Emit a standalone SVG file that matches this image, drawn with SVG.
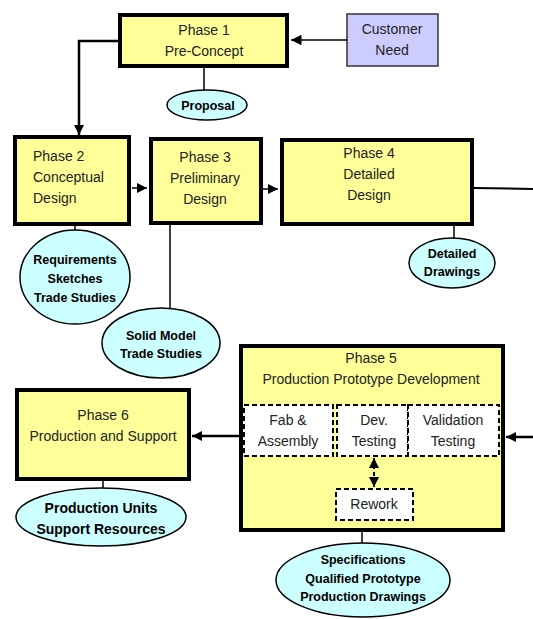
<svg xmlns="http://www.w3.org/2000/svg" width="533" height="619" viewBox="0 0 533 619">
<defs>
<style>
.phase{fill:#ffff99;stroke:#000;stroke-width:4}
.cust{fill:#ccccff;stroke:#333;stroke-width:1.5}
.ell{fill:#ccffff;stroke:#000;stroke-width:1.5}
.dash{fill:#fff;stroke:#000;stroke-width:2;stroke-dasharray:5,3}
.t{font-family:"Liberation Sans",Arial,sans-serif;font-size:14px;fill:#222;text-anchor:middle}
.b{font-family:"Liberation Sans",Arial,sans-serif;font-size:12.5px;font-weight:bold;fill:#000;text-anchor:middle}
.bl{font-family:"Liberation Sans",Arial,sans-serif;font-size:14px;font-weight:bold;fill:#000;text-anchor:middle}
.ln{fill:none;stroke:#000;stroke-width:1.5}
.thick{fill:none;stroke:#000;stroke-width:2.5}
</style>
<marker id="ah" viewBox="0 0 10 10" refX="10" refY="5" markerWidth="4" markerHeight="4" orient="auto-start-reverse" markerUnits="strokeWidth">
<path d="M0,0 L10,5 L0,10 z" fill="#000"/>
</marker>
<marker id="ahd" viewBox="0 0 10 10" refX="10" refY="5" markerWidth="5" markerHeight="5" orient="auto-start-reverse" markerUnits="strokeWidth">
<path d="M0,0 L10,5 L0,10 z" fill="#000"/>
</marker>
<marker id="ahs" viewBox="0 0 10 10" refX="10" refY="5" markerWidth="7" markerHeight="7" orient="auto-start-reverse" markerUnits="strokeWidth">
<path d="M0,0 L10,5 L0,10 z" fill="#000"/>
</marker>
</defs>
<g id="phase1">
<rect class="phase" x="120" y="15" width="167" height="51"/>
<text class="t" x="204" y="35">Phase 1</text>
<text class="t" x="204" y="56">Pre-Concept</text>
</g>
<g id="customer">
<rect class="cust" x="347" y="14" width="91" height="52"/>
<text class="t" x="392" y="34">Customer</text>
<text class="t" x="392" y="55">Need</text>
</g>
<g id="proposal">
<ellipse class="ell" cx="207" cy="105" rx="40" ry="15"/>
<text class="b" x="208" y="110">Proposal</text>
</g>
<g id="phase2">
<rect class="phase" x="15" y="137" width="114" height="87"/>
<text class="t" x="33" y="161" style="text-anchor:start">Phase 2</text>
<text class="t" x="33" y="182" style="text-anchor:start">Conceptual</text>
<text class="t" x="33" y="203" style="text-anchor:start">Design</text>
</g>
<g id="phase3">
<rect class="phase" x="151" y="139" width="110" height="84"/>
<text class="t" x="205" y="162">Phase 3</text>
<text class="t" x="205" y="183">Preliminary</text>
<text class="t" x="205" y="204">Design</text>
</g>
<g id="phase4">
<rect class="phase" x="282" y="140" width="190" height="84"/>
<text class="t" x="369" y="158">Phase 4</text>
<text class="t" x="369" y="179">Detailed</text>
<text class="t" x="369" y="200">Design</text>
</g>
<g id="requirements">
<ellipse class="ell" cx="75" cy="277" rx="55" ry="47"/>
<text class="b" x="75" y="264">Requirements</text>
<text class="b" x="75" y="283">Sketches</text>
<text class="b" x="75" y="302">Trade Studies</text>
</g>
<g id="solidmodel">
<ellipse class="ell" cx="161" cy="343" rx="59" ry="35"/>
<text class="b" x="161" y="340">Solid Model</text>
<text class="b" x="161" y="358">Trade Studies</text>
</g>
<g id="detailed">
<ellipse class="ell" cx="452" cy="263" rx="43" ry="25"/>
<text class="b" x="452" y="258">Detailed</text>
<text class="b" x="452" y="276">Drawings</text>
</g>
<g id="phase5">
<rect class="phase" x="241" y="346" width="262" height="184"/>
<text class="t" x="371" y="363">Phase 5</text>
<text class="t" x="371" y="384">Production Prototype Development</text>
</g>
<g id="fab">
<rect class="dash" x="244" y="405" width="89" height="51"/>
<text class="t" x="288" y="425">Fab &amp;</text>
<text class="t" x="288" y="446">Assembly</text>
</g>
<g id="devtest">
<rect class="dash" x="337" y="405" width="71" height="51"/>
<text class="t" x="374" y="425">Dev.</text>
<text class="t" x="374" y="446">Testing</text>
</g>
<g id="validation">
<rect class="dash" x="408" y="405" width="91" height="51"/>
<text class="t" x="453" y="425">Validation</text>
<text class="t" x="453" y="446">Testing</text>
</g>
<g id="rework">
<rect class="dash" x="336" y="489" width="77" height="31"/>
<text class="t" x="374" y="509">Rework</text>
</g>
<g id="phase6">
<rect class="phase" x="17" y="390" width="172" height="89"/>
<text class="t" x="103" y="420">Phase 6</text>
<text class="t" x="103" y="441">Production and Support</text>
</g>
<g id="produnits">
<ellipse class="ell" cx="101" cy="517" rx="85" ry="29"/>
<text class="bl" x="101" y="513">Production Units</text>
<text class="bl" x="101" y="534">Support Resources</text>
</g>
<g id="specs">
<ellipse class="ell" cx="363" cy="580" rx="87" ry="37"/>
<text class="b" x="363" y="564">Specifications</text>
<text class="b" x="363" y="583">Qualified Prototype</text>
<text class="b" x="363" y="601">Production Drawings</text>
</g>
<g id="connectors">
<line class="ln" x1="347" y1="40" x2="291" y2="40" marker-end="url(#ahs)"/>
<polyline class="thick" points="118,41 79,41 79,135" marker-end="url(#ah)"/>
<line class="ln" x1="204" y1="68" x2="204" y2="90"/>
<line class="ln" x1="132" y1="188" x2="147" y2="188" marker-end="url(#ahs)"/>
<line class="ln" x1="262" y1="189" x2="278" y2="189" marker-end="url(#ahs)"/>
<line class="thick" x1="474" y1="188" x2="533" y2="189" style="stroke-width:2"/>
<line class="ln" x1="75" y1="226" x2="75" y2="230"/>
<line class="ln" x1="170" y1="225" x2="170" y2="308"/>
<line class="ln" x1="454" y1="226" x2="454" y2="238"/>
<line class="thick" x1="533" y1="437" x2="506" y2="437" marker-end="url(#ah)"/>
<line class="thick" x1="239" y1="436" x2="192" y2="436" marker-end="url(#ah)"/>
<line x1="374" y1="458" x2="374" y2="487" style="stroke:#000;stroke-width:2;stroke-dasharray:4,3" marker-start="url(#ahd)" marker-end="url(#ahd)"/>
<line class="ln" x1="103" y1="481" x2="103" y2="488"/>
<line class="ln" x1="362" y1="532" x2="362" y2="543"/>
</g>
</svg>
